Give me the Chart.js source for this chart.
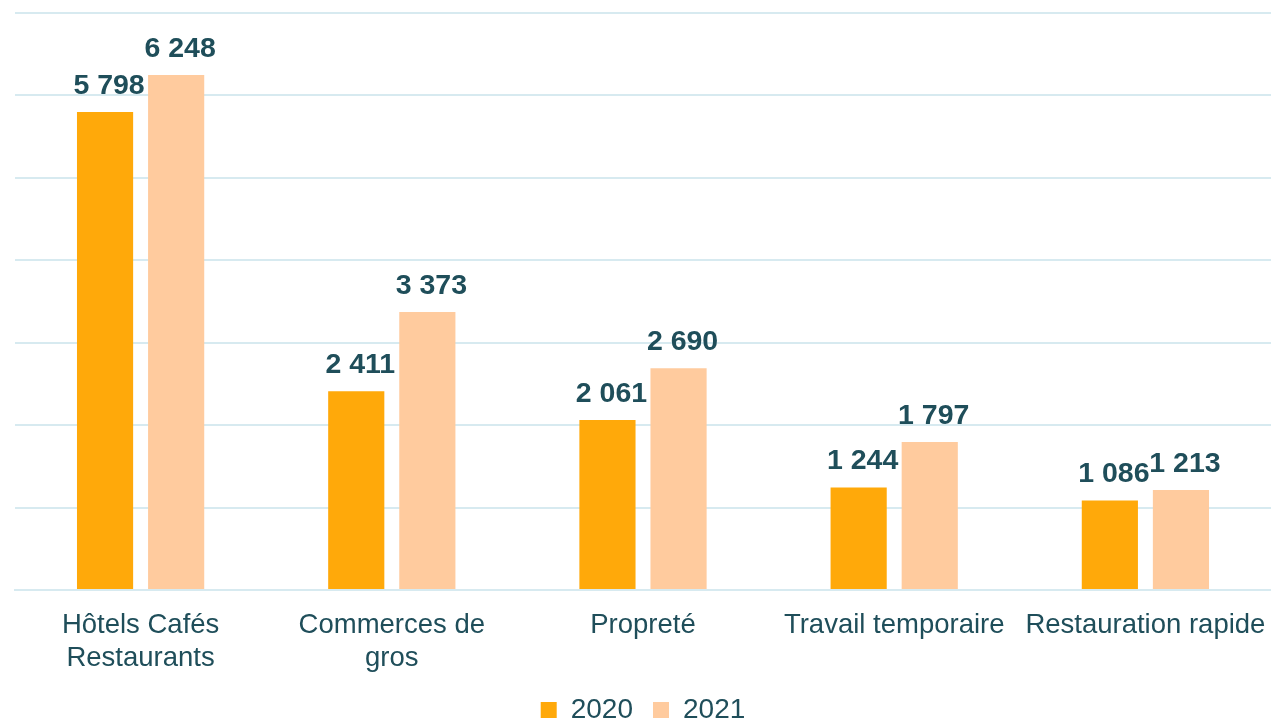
<!DOCTYPE html>
<html>
<head>
<meta charset="utf-8">
<script src="https://cdn.jsdelivr.net/npm/chart.js@4/dist/chart.umd.min.js"></script>
<style>
html,body{margin:0;padding:0;background:#fff;}
#wrap{width:1271px;height:721px;position:relative;}
</style>
</head>
<body>
<div id="wrap"><canvas id="c"></canvas></div>
<script>
const categories = [["Hôtels Cafés","Restaurants"],["Commerces de","gros"],["Propreté"],["Travail temporaire"],["Restauration rapide"]];
const seriesNames = ["2020","2021"];
const values2020 = [5798, 2411, 2061, 1244, 1086];
const values2021 = [6248, 3373, 2690, 1797, 1213];
const yMax = 7000;
const yStep = 1000;

const TEXT = '#1F4E5A';
const GRID = '#D7EAF0';
const FONT = '"Liberation Sans", Arial, sans-serif';

function fmt(v){ return String(v).replace(/\B(?=(\d{3})+(?!\d))/g, ' '); }

const labelPlugin = {
  id: 'valueLabels',
  afterDatasetsDraw(chart){
    const ctx = chart.ctx;
    ctx.save();
    ctx.font = 'bold 28.5px ' + FONT;
    ctx.fillStyle = TEXT;
    ctx.textAlign = 'center';
    ctx.textBaseline = 'alphabetic';
    chart.data.datasets.forEach((ds, i) => {
      const meta = chart.getDatasetMeta(i);
      meta.data.forEach((bar, j) => {
        ctx.fillText(fmt(ds.data[j]), bar.x + 4, bar.y - 18);
      });
    });
    ctx.restore();
  }
};

new Chart(document.getElementById('c'), {
  type: 'bar',
  data: {
    labels: categories,
    datasets: [
      { label: seriesNames[0], data: values2020, backgroundColor: '#FFA90A' },
      { label: seriesNames[1], data: values2021, backgroundColor: '#FFCB9E' }
    ]
  },
  options: {
    responsive: true,
    maintainAspectRatio: false,
    animation: false,
    devicePixelRatio: 1,
    categoryPercentage: 0.566,
    barPercentage: 0.79,
    layout: { padding: { left: 15, right: 0, top: 13, bottom: -13 } },
    plugins: {
      tooltip: { enabled: false },
      legend: {
        position: 'bottom',
        labels: {
          color: TEXT,
          font: { family: FONT, size: 28 },
          boxWidth: 16, boxHeight: 16, padding: 20
        }
      }
    },
    scales: {
      x: {
        grid: { display: false, drawTicks: false },
        border: { display: true, color: GRID, width: 2 },
        afterFit(scale){ scale.paddingLeft = 0; scale.paddingRight = 0; scale.height -= 18; },
        ticks: {
          color: TEXT,
          padding: 19,
          maxRotation: 0,
          autoSkip: false,
          font: { family: FONT, size: 27.5, lineHeight: 1.2 }
        }
      },
      y: {
        min: 0, max: yMax,
        ticks: { display: false, stepSize: yStep },
        grid: { color: GRID, lineWidth: 2, drawTicks: false },
        border: { display: false }
      }
    }
  },
  plugins: [labelPlugin]
});
</script>
</body>
</html>
